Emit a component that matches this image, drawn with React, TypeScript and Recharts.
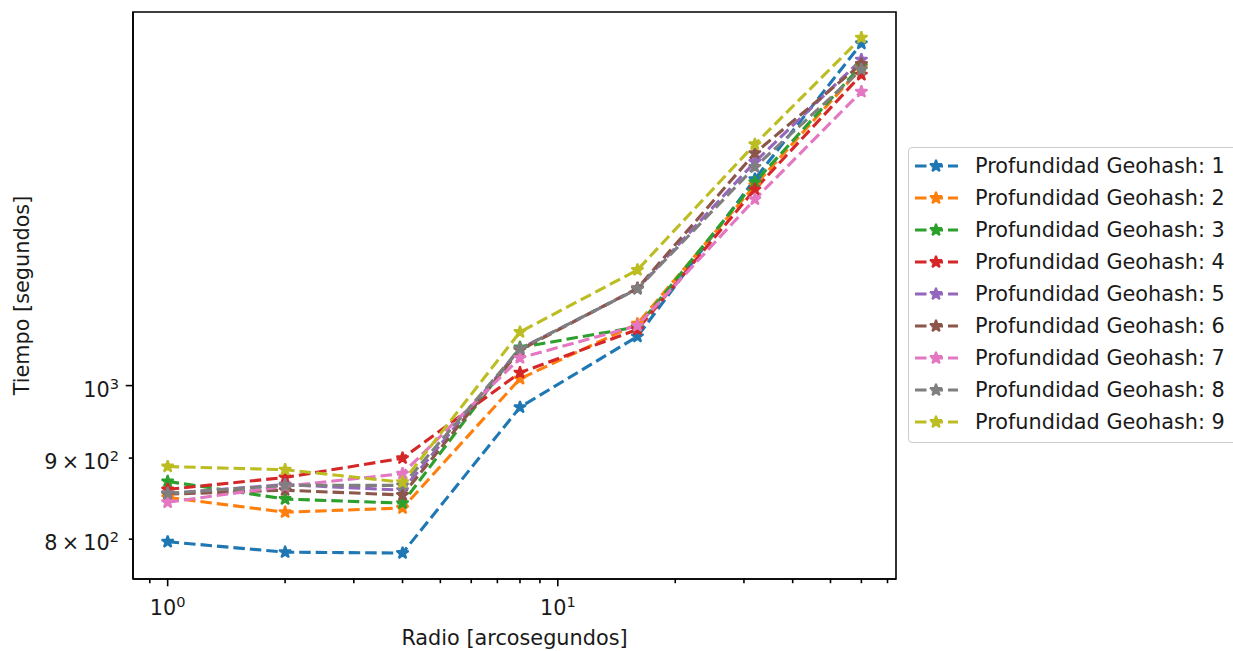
import React from "react";
import { LineChart, Line, XAxis, YAxis, Legend, ReferenceArea } from "recharts";

// Radio de búsqueda en arcosegundos (eje x, escala log)
const RADIOS = [1, 2, 4, 8, 16, 32, 60];

// Tiempo en segundos, una lista por profundidad de geohash
const DEPTH_1 = [797, 785, 784, 969, 1074, 1350, 1644];
const DEPTH_2 = [850, 832, 837, 1010, 1094, 1338, 1587];
const DEPTH_3 = [870, 848, 843, 1057, 1089, 1344, 1592];
const DEPTH_4 = [860, 875, 900, 1019, 1085, 1330, 1571];
const DEPTH_5 = [855, 866, 859, 1055, 1151, 1384, 1606];
const DEPTH_6 = [854, 859, 853, 1053, 1152, 1402, 1596];
const DEPTH_7 = [844, 864, 880, 1041, 1091, 1311, 1533];
const DEPTH_8 = [855, 865, 865, 1055, 1151, 1374, 1583];
const DEPTH_9 = [889, 885, 869, 1081, 1183, 1420, 1658];

const SERIES = [DEPTH_1, DEPTH_2, DEPTH_3, DEPTH_4, DEPTH_5, DEPTH_6, DEPTH_7, DEPTH_8, DEPTH_9];
const LABELS = SERIES.map((_, i) => `Profundidad Geohash: ${i + 1}`);

// matplotlib tab10
const COLORS = ["#1f77b4", "#ff7f0e", "#2ca02c", "#d62728", "#9467bd", "#8c564b", "#e377c2", "#7f7f7f", "#bcbd22"];

const X_DOMAIN = [0.815, 73.6];
const Y_DOMAIN = [755, 1721];
const X_TICKS = [0.9, 1, 2, 3, 4, 5, 6, 7, 8, 9, 10, 20, 30, 40, 50, 60, 70];
const X_MAJOR: Record<number, string> = { 1: "0", 10: "1" };
const Y_TICKS = [800, 900, 1000];
const Y_LABELS: Record<number, [string, string]> = {
  800: ["8\u2009×\u200910", "2"],
  900: ["9\u2009×\u200910", "2"],
  1000: ["10", "3"],
};
const Y_MAJOR = [1000];

const FONT = "DejaVu Sans";
const FS = 20.8;
const INK = "#1a1a1a";

const rows = RADIOS.map((r, i) => {
  const row: Record<string, number> = { radio: r };
  SERIES.forEach((s, k) => {
    row[LABELS[k]] = s[i];
  });
  return row;
});

function starPoints(cx: number, cy: number, R: number) {
  const r = R * 0.381966;
  const pts: string[] = [];
  for (let i = 0; i < 10; i++) {
    const a = -Math.PI / 2 + (i * Math.PI) / 5;
    const rad = i % 2 === 0 ? R : r;
    pts.push(`${cx + rad * Math.cos(a)},${cy + rad * Math.sin(a)}`);
  }
  return pts.join(" ");
}

const Star = ({ cx, cy, color }: { cx: number; cy: number; color: string }) => (
  <polygon points={starPoints(cx, cy, 6.3)} fill={color} stroke={color} strokeWidth={2} strokeLinejoin="bevel" />
);

const XTick = (props: any) => {
  const { x, y, payload } = props;
  const v = payload.value as number;
  const exp = X_MAJOR[v];
  const major = exp !== undefined;
  return (
    <g>
      <line x1={x} x2={x} y1={y} y2={y + (major ? 7.3 : 4.2)} stroke="#000" strokeWidth={1.6} />
      {major && (
        <text x={x} y={y + 36} textAnchor="middle" fontFamily={FONT} fontSize={FS} fill={INK}>
          10
          <tspan dy={-8} fontSize={FS * 0.7}>
            {exp}
          </tspan>
        </text>
      )}
    </g>
  );
};

const YTick = (props: any) => {
  const { x, y, payload } = props;
  const v = payload.value as number;
  const major = Y_MAJOR.includes(v);
  const lab = Y_LABELS[v];
  return (
    <g>
      <line x1={x} x2={x - (major ? 7.3 : 4.2)} y1={y} y2={y} stroke="#000" strokeWidth={1.6} />
      <text x={x - 14} y={y + 11} textAnchor="end" fontFamily={FONT} fontSize={FS} fill={INK}>
        {lab[0]}
        <tspan dy={-8} fontSize={FS * 0.7}>
          {lab[1]}
        </tspan>
      </text>
    </g>
  );
};

// la caja de la leyenda sobresale por la derecha de la figura, como en el original
const LegendBox = () => (
  <div
    style={{
      boxSizing: "border-box",
      border: "1.5px solid #cccccc",
      borderRadius: 4,
      background: "rgba(255,255,255,0.8)",
      padding: "2px 0 4px 0",
      width: 400,
      minWidth: 400,
      fontFamily: FONT,
      fontSize: FS,
      color: INK,
    }}
  >
    {LABELS.map((lab, i) => (
      <div key={lab} style={{ height: 32, display: "flex", alignItems: "center" }}>
        <svg width={62} height={32} style={{ flex: "none" }}>
          <line x1={6} x2={49} y1={16} y2={16} stroke={COLORS[i]} strokeWidth={3.1} strokeDasharray="11.5 5" />
          <Star cx={27} cy={16} color={COLORS[i]} />
        </svg>
        <span style={{ marginLeft: 4, whiteSpace: "nowrap" }}>{lab}</span>
      </div>
    ))}
  </div>
);

export default function App() {
  return (
    <div
      style={{
        position: "absolute",
        left: 0,
        top: 0,
        width: 1233,
        height: 651,
        overflow: "hidden",
        background: "#fff",
      }}
    >
      <LineChart width={1233} height={651} data={rows} margin={{ top: 12, right: 337, left: 0, bottom: 0 }}>
        <XAxis
          dataKey="radio"
          type="number"
          scale="log"
          domain={X_DOMAIN}
          allowDataOverflow
          ticks={X_TICKS}
          interval={0}
          tick={<XTick />}
          tickLine={false}
          tickSize={0}
          tickMargin={0}
          height={72}
          axisLine={{ stroke: "#000", strokeWidth: 1.6 }}
          label={(p: any) => (
            <text
              x={p.viewBox.x + p.viewBox.width / 2}
              y={p.viewBox.y + 66}
              textAnchor="middle"
              fontFamily={FONT}
              fontSize={FS}
              fill={INK}
            >
              Radio [arcosegundos]
            </text>
          )}
        />
        <YAxis
          type="number"
          scale="log"
          domain={Y_DOMAIN}
          allowDataOverflow
          ticks={Y_TICKS}
          interval={0}
          tick={<YTick />}
          tickLine={false}
          tickSize={0}
          tickMargin={0}
          width={133}
          axisLine={{ stroke: "#000", strokeWidth: 1.6 }}
          label={(p: any) => (
            <text
              x={29}
              y={p.viewBox.y + p.viewBox.height / 2}
              transform={`rotate(-90, 29, ${p.viewBox.y + p.viewBox.height / 2})`}
              textAnchor="middle"
              fontFamily={FONT}
              fontSize={FS}
              fill={INK}
            >
              Tiempo [segundos]
            </text>
          )}
        />
        <Legend
          layout="vertical"
          align="center"
          verticalAlign="middle"
          wrapperStyle={{ left: 908, top: 147, width: 400, overflow: "visible" }}
          content={() => <LegendBox />}
        />
        {LABELS.map((lab, i) => (
          <Line
            key={lab}
            type="linear"
            dataKey={lab}
            name={lab}
            stroke={COLORS[i]}
            strokeWidth={3.1}
            strokeDasharray="11.5 5"
            isAnimationActive={false}
            activeDot={false}
            dot={(p: any) => <Star key={`${lab}-${p.index}`} cx={p.cx} cy={p.cy} color={COLORS[i]} />}
          />
        ))}
        {/* marco completo de los ejes, como los spines de matplotlib */}
        <ReferenceArea
          x1={X_DOMAIN[0]}
          x2={X_DOMAIN[1]}
          y1={Y_DOMAIN[0]}
          y2={Y_DOMAIN[1]}
          fill="none"
          fillOpacity={0}
          stroke="#000"
          strokeWidth={1.6}
          ifOverflow="visible"
        />
      </LineChart>
    </div>
  );
}
